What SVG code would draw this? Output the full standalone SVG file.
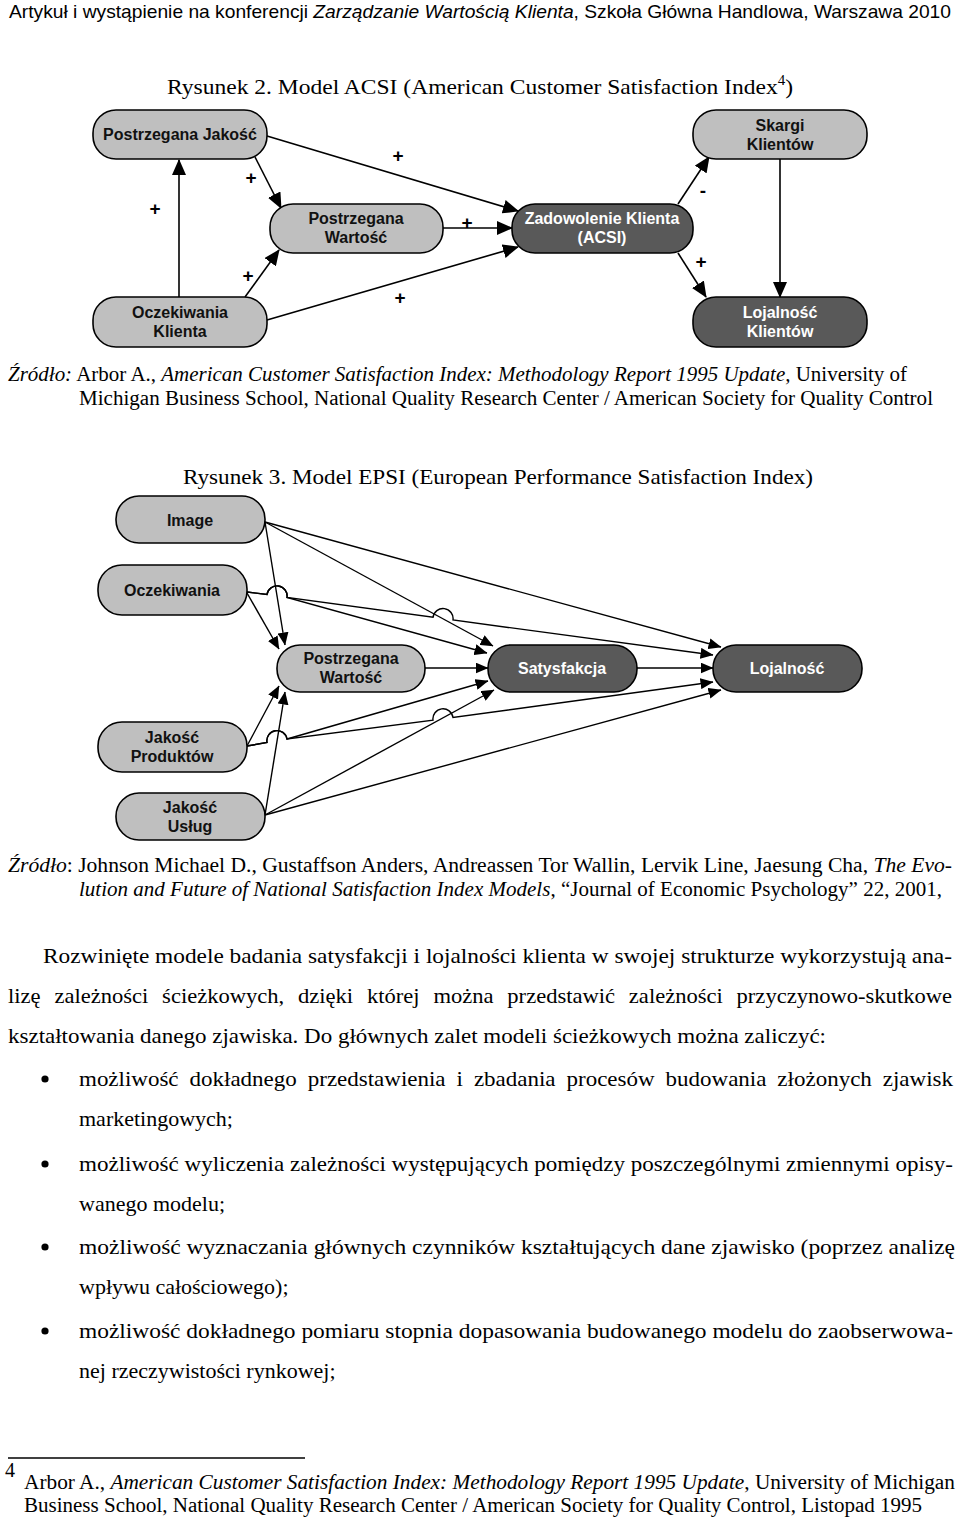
<svg xmlns="http://www.w3.org/2000/svg" width="960" height="1521" viewBox="0 0 960 1521">
<style>
.bg{fill:#ffffff}
.lt{fill:#bfbfbf;stroke:#000;stroke-width:1.6}
.dk{fill:#595959;stroke:#000;stroke-width:1.6}
.nt{font-family:"Liberation Sans",Arial,sans-serif;font-weight:bold;font-size:16px;text-anchor:middle;fill:#111}
.nw{font-family:"Liberation Sans",Arial,sans-serif;font-weight:bold;font-size:16px;text-anchor:middle;fill:#fff}
.sg{font-family:"Liberation Sans",Arial,sans-serif;font-weight:bold;font-size:19px;text-anchor:middle;fill:#000}
.c1{fill:none;stroke:#000;stroke-width:1.6;marker-end:url(#a1)}
.c2{fill:none;stroke:#000;stroke-width:1.4;marker-end:url(#a2)}
.hd{font-family:"Liberation Sans",Arial,sans-serif;font-size:19px;fill:#000}
.tx{font-family:"Liberation Serif","Times New Roman",serif;font-size:22px;fill:#000}
.sm{font-family:"Liberation Serif","Times New Roman",serif;font-size:20px;fill:#000}
.it{font-style:italic}
</style>
<defs>
<marker id="a1" markerUnits="userSpaceOnUse" markerWidth="16" markerHeight="14" viewBox="0 0 16 14" refX="15" refY="7" orient="auto">
<path d="M0,0 L16,7 L0,14 Z" fill="#000"/>
</marker>
<marker id="a2" markerUnits="userSpaceOnUse" markerWidth="13" markerHeight="11" viewBox="0 0 13 11" refX="12.5" refY="5.5" orient="auto">
<path d="M0,0 L13,5.5 L0,11 Z" fill="#000"/>
</marker>
</defs>
<rect class="bg" x="0" y="0" width="960" height="1521"/>

<text class="hd" x="9" y="18" textLength="942" lengthAdjust="spacingAndGlyphs">Artykuł i wystąpienie na konferencji <tspan class="it">Zarządzanie Wartością Klienta</tspan>, Szkoła Główna Handlowa, Warszawa 2010</text>

<text class="tx" x="167" y="94" textLength="626" lengthAdjust="spacingAndGlyphs">Rysunek 2. Model ACSI (American  Customer Satisfaction Index<tspan font-size="14" dy="-9">4</tspan><tspan dy="9">)</tspan></text>

<!-- ACSI connectors -->
<g id="acsi-connectors">
<path class="c1" d="M179,297 L179,160"/>
<path class="c1" d="M255,157 L281,208"/>
<path class="c1" d="M267,136 L518,211"/>
<path class="c1" d="M245,297 L279,250"/>
<path class="c1" d="M267,320 L518,247"/>
<path class="c1" d="M443,228 L512,228"/>
<path class="c1" d="M678,204 L709,157"/>
<path class="c1" d="M678,253 L706,297"/>
<path class="c1" d="M780,159 L780,297"/>
<text class="sg" x="398" y="162">+</text>
<text class="sg" x="251" y="184">+</text>
<text class="sg" x="155" y="215">+</text>
<text class="sg" x="467" y="229">+</text>
<text class="sg" x="248" y="282">+</text>
<text class="sg" x="400" y="304">+</text>
<text class="sg" x="703" y="197">-</text>
<text class="sg" x="701" y="268">+</text>
</g>

<g id="acsi-postrzegana-jakosc">
<rect class="lt" x="93" y="110" width="174" height="49" rx="23"/>
<text class="nt" x="180" y="140">Postrzegana Jakość</text>
</g>
<g id="acsi-oczekiwania-klienta">
<rect class="lt" x="93" y="297" width="174" height="50" rx="23"/>
<text class="nt" x="180" y="318">Oczekiwania</text>
<text class="nt" x="180" y="337">Klienta</text>
</g>
<g id="acsi-postrzegana-wartosc">
<rect class="lt" x="270" y="204" width="173" height="49" rx="23"/>
<text class="nt" x="356" y="224">Postrzegana</text>
<text class="nt" x="356" y="243">Wartość</text>
</g>
<g id="acsi-zadowolenie">
<rect class="dk" x="512" y="204" width="181" height="49" rx="23"/>
<text class="nw" x="602" y="224">Zadowolenie Klienta</text>
<text class="nw" x="602" y="243">(ACSI)</text>
</g>
<g id="acsi-skargi">
<rect class="lt" x="693" y="110" width="174" height="49" rx="23"/>
<text class="nt" x="780" y="131">Skargi</text>
<text class="nt" x="780" y="150">Klientów</text>
</g>
<g id="acsi-lojalnosc">
<rect class="dk" x="693" y="297" width="174" height="50" rx="23"/>
<text class="nw" x="780" y="318">Lojalność</text>
<text class="nw" x="780" y="337">Klientów</text>
</g>

<text class="sm" x="8" y="381" textLength="899" lengthAdjust="spacingAndGlyphs"><tspan class="it">Źródło:</tspan> Arbor A., <tspan class="it">American Customer Satisfaction Index: Methodology Report 1995 Update,</tspan> University of</text>
<text class="sm" x="79" y="405" textLength="854" lengthAdjust="spacingAndGlyphs">Michigan Business School, National Quality Research Center / American Society for Quality Control</text>

<text class="tx" x="183" y="484" textLength="630" lengthAdjust="spacingAndGlyphs">Rysunek 3. Model EPSI (European Performance Satisfaction Index)</text>

<!-- EPSI connectors -->
<g id="epsi-connectors">
<path class="c2" d="M265,522 L285,645"/>
<path class="c2" d="M265,522 L493,646"/>
<path class="c2" d="M265,522 L721,647"/>
<path class="c2" d="M247,593 L279,649"/>
<path class="c2" d="M247,592 L267,594.5 A10,10 0 0 1 287,597.5 L487,653"/>
<path class="c2" d="M247,592 L267,594.5 A10,10 0 0 1 287,597.5 L433,617.3 A10,10 0 0 1 453,620 L713,655"/>
<path class="c2" d="M425,668 L488,668"/>
<path class="c2" d="M637,668 L713,668"/>
<path class="c2" d="M247,746 L279,686"/>
<path class="c2" d="M247,746 L267,742.5 A10,10 0 0 1 287,739 L488,681"/>
<path class="c2" d="M247,746 L267,742.5 A10,10 0 0 1 287,739 L433,720.2 A10,10 0 0 1 453,717.5 L713,682"/>
<path class="c2" d="M265,815 L285,692"/>
<path class="c2" d="M265,815 L494,690"/>
<path class="c2" d="M265,815 L721,690"/>
</g>

<g id="epsi-image">
<rect class="lt" x="116" y="496" width="149" height="47" rx="23"/>
<text class="nt" x="190" y="526">Image</text>
</g>
<g id="epsi-oczekiwania">
<rect class="lt" x="98" y="565" width="149" height="50" rx="24"/>
<text class="nt" x="172" y="596">Oczekiwania</text>
</g>
<g id="epsi-postrzegana-wartosc">
<rect class="lt" x="277" y="645" width="148" height="47" rx="23"/>
<text class="nt" x="351" y="664">Postrzegana</text>
<text class="nt" x="351" y="683">Wartość</text>
</g>
<g id="epsi-satysfakcja">
<rect class="dk" x="488" y="645" width="149" height="47" rx="23"/>
<text class="nw" x="562" y="674">Satysfakcja</text>
</g>
<g id="epsi-lojalnosc">
<rect class="dk" x="713" y="645" width="149" height="47" rx="23"/>
<text class="nw" x="787" y="674">Lojalność</text>
</g>
<g id="epsi-jakosc-produktow">
<rect class="lt" x="98" y="722" width="149" height="50" rx="24"/>
<text class="nt" x="172" y="743">Jakość</text>
<text class="nt" x="172" y="762">Produktów</text>
</g>
<g id="epsi-jakosc-uslug">
<rect class="lt" x="116" y="793" width="149" height="47" rx="23"/>
<text class="nt" x="190" y="813">Jakość</text>
<text class="nt" x="190" y="832">Usług</text>
</g>

<text class="sm" x="8" y="872" textLength="944" lengthAdjust="spacingAndGlyphs"><tspan class="it">Źródło</tspan>: Johnson Michael D., Gustaffson Anders, Andreassen Tor Wallin, Lervik Line, Jaesung Cha, <tspan class="it">The Evo-</tspan></text>
<text class="sm" x="79" y="896" textLength="863" lengthAdjust="spacingAndGlyphs"><tspan class="it">lution and Future of National Satisfaction Index Models</tspan>, “Journal of Economic Psychology” 22, 2001,</text>

<text class="tx" x="43" y="963" textLength="909" lengthAdjust="spacingAndGlyphs">Rozwinięte modele badania satysfakcji i lojalności klienta w swojej strukturze wykorzystują ana-</text>
<text class="tx" x="8" y="1003" textLength="944" lengthAdjust="spacingAndGlyphs" word-spacing="8">lizę zależności ścieżkowych, dzięki której można przedstawić zależności przyczynowo-skutkowe</text>
<text class="tx" x="8" y="1043" textLength="818" lengthAdjust="spacingAndGlyphs">kształtowania danego zjawiska. Do głównych zalet modeli ścieżkowych można zaliczyć:</text>

<g id="bullets" fill="#000">
<circle cx="45" cy="1079" r="3.6"/>
<circle cx="45" cy="1164" r="3.6"/>
<circle cx="45" cy="1247" r="3.6"/>
<circle cx="45" cy="1331" r="3.6"/>
</g>
<text class="tx" x="79" y="1086" textLength="874" lengthAdjust="spacingAndGlyphs" word-spacing="5">możliwość dokładnego przedstawienia i zbadania procesów budowania złożonych zjawisk</text>
<text class="tx" x="79" y="1126">marketingowych;</text>
<text class="tx" x="79" y="1171" textLength="874" lengthAdjust="spacingAndGlyphs">możliwość wyliczenia zależności występujących pomiędzy poszczególnymi zmiennymi opisy-</text>
<text class="tx" x="79" y="1211">wanego modelu;</text>
<text class="tx" x="79" y="1254" textLength="876" lengthAdjust="spacingAndGlyphs">możliwość wyznaczania głównych czynników kształtujących dane zjawisko (poprzez analizę</text>
<text class="tx" x="79" y="1294">wpływu całościowego);</text>
<text class="tx" x="79" y="1338" textLength="874" lengthAdjust="spacingAndGlyphs">możliwość dokładnego pomiaru stopnia dopasowania budowanego modelu do zaobserwowa-</text>
<text class="tx" x="79" y="1378">nej rzeczywistości rynkowej;</text>

<line x1="8" y1="1458" x2="305" y2="1458" stroke="#000" stroke-width="1.5"/>
<text class="sm" x="5" y="1477" font-size="12">4</text>
<text class="sm" x="24" y="1489" textLength="931" lengthAdjust="spacingAndGlyphs">Arbor A., <tspan class="it">American Customer Satisfaction Index: Methodology Report 1995 Update</tspan>, University of Michigan</text>
<text class="sm" x="24" y="1512" textLength="898" lengthAdjust="spacingAndGlyphs">Business School, National Quality Research Center / American Society for Quality Control, Listopad 1995</text>
</svg>
